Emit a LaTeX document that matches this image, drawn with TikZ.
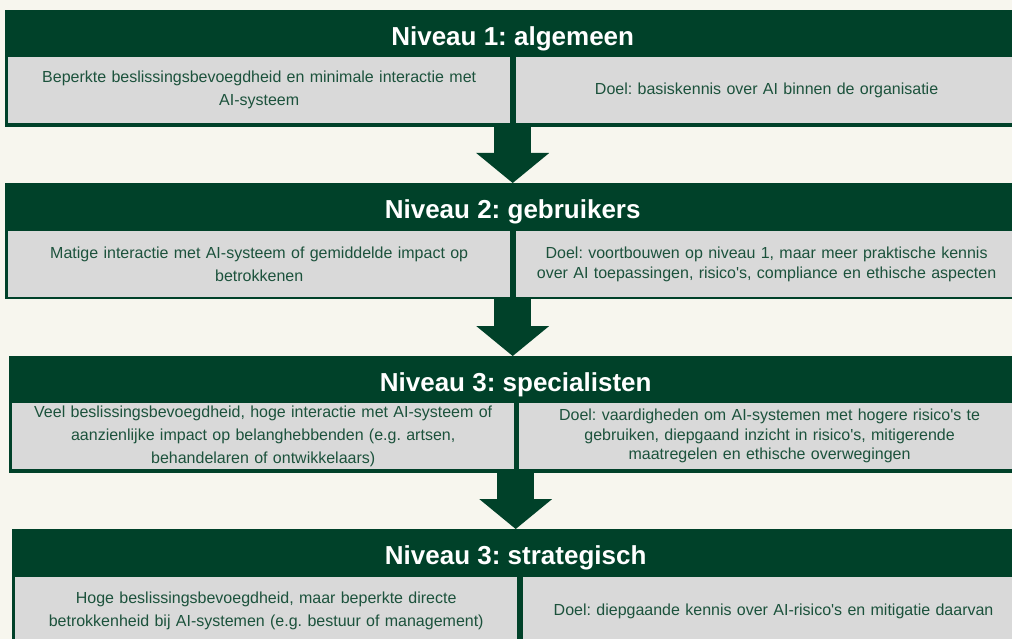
\documentclass[tikz,border=0pt]{standalone}
\usepackage{fontspec}
\setmainfont{Liberation Sans}
\usetikzlibrary{positioning,arrows.meta}
\definecolor{bgcream}{RGB}{247,246,238}
\definecolor{dkgreen}{RGB}{0,65,41}
\definecolor{boxgrey}{RGB}{217,217,217}
\definecolor{txtgreen}{RGB}{28,82,60}
\newcommand{\apos}{\textquotesingle}
\frenchspacing

\begin{document}
\begin{tikzpicture}[x=1pt, y=-1pt,
    level/.style={fill=dkgreen, inner sep=0pt, minimum width=1015pt, minimum height=117pt, anchor=north west},
    heading/.style={text=white, font=\fontsize{26}{30}\selectfont\bfseries, anchor=base},
    whobox/.style={fill=boxgrey, text=txtgreen, inner sep=0pt, text width=490pt, align=center, minimum width=502pt, minimum height=66pt, font=\fontsize{16}{23}\selectfont},
    goalbox/.style={whobox, font=\fontsize{16}{19.5}\selectfont},
    down/.style={dkgreen, line width=37pt, -{Triangle[width=73pt, length=30pt, line width=0pt]}}]

    \useasboundingbox (0,0) rectangle (1012,639);
    \clip (0,0) rectangle (1012,639);
    \fill[bgcream] (0,0) rectangle (1012,639);

    % level 1
    \node[level] (lvl1) at (5,10) {};
    \node[heading] (head1) at ([yshift=-35.5pt]lvl1.north) {Niveau 1: algemeen};
    \node[whobox, anchor=north west] (who1) at ([shift={(3,47)}]lvl1.north west) {Beperkte beslissingsbevoegdheid en minimale interactie met\\AI-systeem};
    \node[goalbox, right=5pt of who1] (goal1) {Doel: basiskennis over AI binnen de organisatie};

    % level 2
    \node[level, minimum height=116pt] (lvl2) at (5,183) {};
    \node[heading] (head2) at ([yshift=-35.5pt]lvl2.north) {Niveau 2: gebruikers};
    \node[whobox, anchor=north west] (who2) at ([shift={(3,48)}]lvl2.north west) {Matige interactie met AI-systeem of gemiddelde impact op\\betrokkenen};
    \node[goalbox, right=5pt of who2] (goal2) {Doel: voortbouwen op niveau 1, maar meer praktische kennis\\over AI toepassingen, risico\apos s, compliance en ethische aspecten};

    % level 3
    \node[level, minimum width=1013pt] (lvl3) at (9,356) {};
    \node[heading] (head3) at ([yshift=-35.5pt]lvl3.north) {Niveau 3: specialisten};
    \node[whobox, anchor=north west] (who3) at ([shift={(3,47)}]lvl3.north west) {Veel beslissingsbevoegdheid, hoge interactie met AI-systeem of\\aanzienlijke impact op belanghebbenden (e.g. artsen,\\behandelaren of ontwikkelaars)};
    \node[goalbox, right=4pt of who3] (goal3) {Doel: vaardigheden om AI-systemen met hogere risico\apos s te\\gebruiken, diepgaand inzicht in risico\apos s, mitigerende\\maatregelen en ethische overwegingen};

    % level 4
    \node[level, minimum width=1007pt, minimum height=130pt] (lvl4) at (12,529) {};
    \node[heading] (head4) at ([yshift=-35.5pt]lvl4.north) {Niveau 3: strategisch};
    \node[whobox, anchor=north west, minimum height=68pt] (who4) at ([shift={(3,48)}]lvl4.north west) {Hoge beslissingsbevoegdheid, maar beperkte directe\\betrokkenheid bij AI-systemen (e.g. bestuur of management)};
    \node[goalbox, right=5pt of who4, minimum height=68pt] (goal4) {Doel: diepgaande kennis over AI-risico\apos s en mitigatie daarvan};

    % arrows
    \draw[down] (lvl1.south) -- (lvl2.north);
    \draw[down] (lvl2.south) -- (lvl2.south |- lvl3.north);
    \draw[down] (lvl3.south) -- (lvl4.north);
\end{tikzpicture}
\end{document}
